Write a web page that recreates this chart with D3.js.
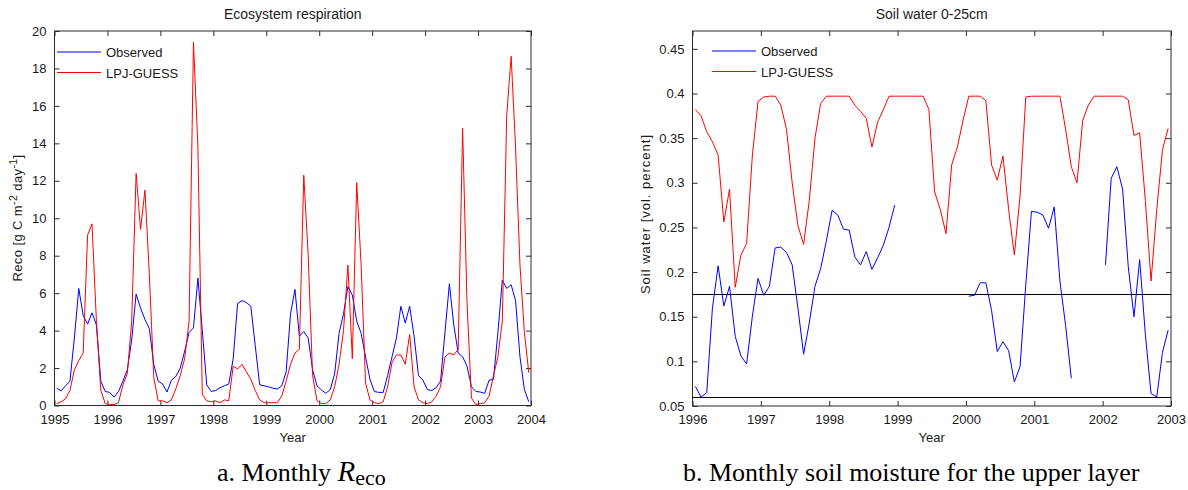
<!DOCTYPE html>
<html>
<head>
<meta charset="utf-8">
<script src="https://cdn.jsdelivr.net/npm/d3@7"></script>
<style>
  html, body { margin: 0; padding: 0; background: #fff; }
  svg { display: block; }
  .tick text { font-family: "Liberation Sans", Arial, sans-serif; font-size: 13px; fill: #1a1a1a; }
  .lab { font-family: "Liberation Sans", Arial, sans-serif; font-size: 13px; fill: #1a1a1a; }
  .cap { font-family: "Liberation Serif", "Times New Roman", serif; font-size: 26px; fill: #000; }
</style>
</head>
<body>
<svg id="fig" width="1188" height="490"></svg>
<script>
// ---- Monthly ecosystem respiration, 1995-2003 (g C m-2 day-1) ----
const recoYears = [1995, 1996, 1997, 1998, 1999, 2000, 2001, 2002, 2003];
const recoObserved = [
  0.92, 0.78, 1.05, 1.3, 3.6, 6.25, 4.8, 4.35, 4.95, 4.3, 1.3, 0.75,
  0.7, 0.45, 0.75, 1.3, 1.9, 3.5, 5.95, 5.2, 4.6, 4.1, 2.2, 1.3,
  1.15, 0.72, 1.35, 1.55, 2.0, 2.9, 3.9, 4.15, 6.8, 4.0, 1.1, 0.75,
  0.8, 0.95, 1.05, 1.15, 2.5, 5.45, 5.6, 5.5, 5.3, 3.2, 1.1, 1.05,
  1.0, 0.92, 0.88, 1.05, 1.8, 4.9, 6.2, 3.7, 3.95, 3.6, 1.9, 1.05,
  0.83, 0.65, 0.85, 1.7, 3.85, 4.9, 6.35, 5.9, 4.5, 3.85, 2.6, 1.4,
  0.75, 0.7, 0.7, 1.6, 2.6, 3.6, 5.3, 4.4, 5.3, 3.7, 1.6, 1.35,
  0.85, 0.8, 0.95, 1.3, 3.9, 6.5, 4.3, 2.8, 2.6, 2.1, 1.0, 0.75,
  0.72, 0.65, 1.35, 1.4, 3.9, 6.7, 6.25, 6.45, 5.6, 2.6, 0.85, 0.2
];
const recoModel = [
  0.1, 0.2, 0.35, 0.8, 1.9, 2.4, 2.8, 9.1, 9.7, 4.5, 0.8, 0.1,
  0.05, 0.05, 0.15, 1.1, 1.7, 4.5, 12.4, 9.4, 11.5, 7.0, 1.5, 0.25,
  0.25, 0.15, 0.3, 0.9, 1.6, 2.5, 4.5, 19.4, 13.8, 0.6, 0.25, 0.2,
  0.25, 0.15, 0.3, 0.25, 2.1, 1.95, 2.2, 1.8, 1.4, 0.8, 0.3, 0.15,
  0.15, 0.15, 0.15, 0.5, 1.3, 2.2, 2.8, 3.0, 12.3, 8.0, 1.6, 0.25,
  0.1, 0.1, 0.3, 1.0, 2.2, 4.0, 7.5, 2.5, 11.9, 7.5, 1.2, 0.3,
  0.15, 0.1, 0.2, 1.0, 2.3, 2.7, 2.7, 2.2, 3.8, 1.0, 0.3, 0.15,
  0.1, 0.2, 0.5, 1.0, 2.6, 2.8, 2.7, 3.0, 14.8, 5.5, 0.4, 0.05,
  0.1, 0.15, 0.5, 1.6, 2.6, 4.5, 15.5, 18.65, 13.8, 7.5, 3.9, 1.75
];
const recoXTicks = [1995, 1996, 1997, 1998, 1999, 2000, 2001, 2002, 2003, 2004];
const recoYTicks = [0, 2, 4, 6, 8, 10, 12, 14, 16, 18, 20];

// ---- Monthly soil water 0-25 cm, 1996-2002 (volumetric fraction) ----
const soilYears = [1996, 1997, 1998, 1999, 2000, 2001, 2002];
const soilObserved = [
  0.072, 0.06, 0.065, 0.16, 0.207, 0.162, 0.184, 0.128, 0.106, 0.097, 0.15, 0.193,
  0.174, 0.184, 0.227, 0.228, 0.222, 0.208, 0.16, 0.108, 0.143, 0.184, 0.204, 0.235,
  0.269, 0.264, 0.248, 0.247, 0.217, 0.208, 0.223, 0.203, 0.216, 0.23, 0.25, 0.275,
  null, null, null, null, null, null, null, null, null, null, null, null,
  0.173, 0.174, 0.188, 0.188, 0.157, 0.111, 0.122, 0.112, 0.077, 0.094, 0.185, 0.268,
  0.267, 0.264, 0.249, 0.273, 0.19, 0.14, 0.081, null, null, null, null, null,
  0.208, 0.305, 0.318, 0.293, 0.206, 0.15, 0.214, 0.13, 0.064, 0.06, 0.11, 0.135
];
const soilModel = [
  0.382, 0.375, 0.357, 0.346, 0.331, 0.256, 0.293, 0.183, 0.219, 0.232, 0.33, 0.391,
  0.396, 0.397, 0.397, 0.387, 0.36, 0.30, 0.252, 0.231, 0.28, 0.35, 0.389, 0.397,
  0.397, 0.397, 0.397, 0.397, 0.387, 0.38, 0.372, 0.34, 0.368, 0.382, 0.397, 0.397,
  0.397, 0.397, 0.397, 0.397, 0.397, 0.382, 0.29, 0.27, 0.243, 0.32, 0.34, 0.37,
  0.397, 0.397, 0.397, 0.392, 0.32, 0.303, 0.33, 0.27, 0.219, 0.285, 0.396, 0.397,
  0.397, 0.397, 0.397, 0.397, 0.397, 0.36, 0.318, 0.30, 0.37, 0.387, 0.397, 0.397,
  0.397, 0.397, 0.397, 0.397, 0.393, 0.353, 0.356, 0.28, 0.19, 0.27, 0.337, 0.361
];
const soilLimits = [0.175, 0.06];
const soilXTicks = [1996, 1997, 1998, 1999, 2000, 2001, 2002, 2003];
const soilYTicks = [0.05, 0.1, 0.15, 0.2, 0.25, 0.3, 0.35, 0.4, 0.45];

const seriesNames = ["Observed", "LPJ-GUESS"];
const seriesColors = ["#0000ff", "#ff0000"];

// monthly values are placed at mid-month
function monthly(startYear, values) {
  return values.map((v, i) => ({ t: startYear + (i + 0.5) / 12, v: v }));
}

const svg = d3.select("#fig");

function panel(opt) {
  const x = d3.scaleLinear().domain(opt.xDomain).range([opt.left, opt.right]);
  const y = d3.scaleLinear().domain(opt.yDomain).range([opt.bottom, opt.top]);
  const g = svg.append("g");
  const axisColor = "#2b2b2b";
  const tl = 5;

  const styleAxis = sel => {
    sel.select(".domain").remove();
    sel.selectAll(".tick line").attr("stroke", axisColor);
  };

  g.append("g").attr("transform", `translate(0,${opt.bottom})`)
    .call(d3.axisBottom(x).tickValues(opt.xTicks).tickFormat(d3.format("d"))
      .tickSizeInner(-tl).tickSizeOuter(0).tickPadding(9))
    .call(styleAxis);
  g.append("g").attr("transform", `translate(0,${opt.top})`)
    .call(d3.axisTop(x).tickValues(opt.xTicks).tickFormat("")
      .tickSizeInner(-tl).tickSizeOuter(0))
    .call(styleAxis);
  g.append("g").attr("transform", `translate(${opt.left},0)`)
    .call(d3.axisLeft(y).tickValues(opt.yTicks).tickFormat(opt.yFormat)
      .tickSizeInner(-tl).tickSizeOuter(0).tickPadding(8))
    .call(styleAxis);
  g.append("g").attr("transform", `translate(${opt.right},0)`)
    .call(d3.axisRight(y).tickValues(opt.yTicks).tickFormat("")
      .tickSizeInner(-tl).tickSizeOuter(0))
    .call(styleAxis);

  g.append("rect")
    .attr("x", opt.left).attr("y", opt.top)
    .attr("width", opt.right - opt.left).attr("height", opt.bottom - opt.top)
    .attr("fill", "none").attr("stroke", axisColor).attr("stroke-width", 1);

  // reference levels
  (opt.hlines || []).forEach(h => {
    g.append("line")
      .attr("x1", x(opt.xDomain[0])).attr("x2", x(opt.xDomain[1]))
      .attr("y1", Math.round(y(h)) + 0.5).attr("y2", Math.round(y(h)) + 0.5)
      .attr("stroke", "#000").attr("stroke-width", 1);
  });

  const line = d3.line()
    .defined(d => d.v !== null)
    .x(d => x(d.t)).y(d => y(d.v));

  opt.series.forEach((s, k) => {
    g.append("path")
      .datum(monthly(opt.xDomain[0], s))
      .attr("d", line)
      .attr("fill", "none")
      .attr("stroke", seriesColors[k])
      .attr("stroke-width", 1);
  });

  // legend
  seriesNames.forEach((name, k) => {
    const ly = opt.legend[1] + k * 20.5;
    g.append("line")
      .attr("x1", opt.legend[0]).attr("x2", opt.legend[0] + 44)
      .attr("y1", ly).attr("y2", ly)
      .attr("stroke", seriesColors[k]).attr("stroke-width", 1);
    g.append("text").attr("class", "lab")
      .attr("x", opt.legend[0] + 49).attr("y", ly + 5)
      .text(name);
  });

  const cx = (opt.left + opt.right) / 2;
  g.append("text").attr("class", "lab")
    .attr("x", cx).attr("y", 19).attr("text-anchor", "middle")
    .style("font-size", "14px")
    .text(opt.title);
  g.append("text").attr("class", "lab")
    .attr("x", cx).attr("y", 442).attr("text-anchor", "middle")
    .text("Year");

  const yl = g.append("text").attr("class", "lab")
    .attr("text-anchor", "middle")
    .style("letter-spacing", opt.yLabelSpacing)
    .attr("transform", `translate(${opt.yLabelX},${opt.yLabelY}) rotate(-90)`);
  opt.yLabel(yl);
}

panel({
  left: 54.5, right: 531, top: 31, bottom: 405.5,
  xDomain: [1995, 2004], yDomain: [0, 20],
  xTicks: recoXTicks, yTicks: recoYTicks,
  yFormat: d3.format("d"),
  series: [recoObserved, recoModel],
  legend: [57, 52],
  title: "Ecosystem respiration",
  yLabelX: 22, yLabelY: 218, yLabelSpacing: "0.4px",
  yLabel: t => {
    t.append("tspan").text("Reco [g C m");
    t.append("tspan").attr("dy", -5).style("font-size", "10.5px").text("-2");
    t.append("tspan").attr("dy", 5).text(" day");
    t.append("tspan").attr("dy", -5).style("font-size", "10.5px").text("-1");
    t.append("tspan").attr("dy", 5).text("]");
  }
});

panel({
  left: 692.5, right: 1171, top: 31, bottom: 406,
  xDomain: [1996, 2003], yDomain: [0.05, 0.47],
  xTicks: soilXTicks, yTicks: soilYTicks,
  yFormat: v => String(+v.toFixed(2)),
  series: [soilObserved, soilModel],
  hlines: soilLimits,
  legend: [712, 51],
  title: "Soil water 0-25cm",
  yLabelX: 650, yLabelY: 214, yLabelSpacing: "1px",
  yLabel: t => t.text("Soil water [vol. percent]")
});

// figure captions
const capA = svg.append("text").attr("class", "cap").attr("x", 217).attr("y", 481);
capA.append("tspan").text("a. Monthly ");
capA.append("tspan").style("font-style", "italic").style("font-size", "29px").text("R");
capA.append("tspan").attr("dy", 4).style("font-size", "22px").text("eco");

svg.append("text").attr("class", "cap").attr("x", 683).attr("y", 481)
  .text("b. Monthly soil moisture for the upper layer");
</script>
</body>
</html>
